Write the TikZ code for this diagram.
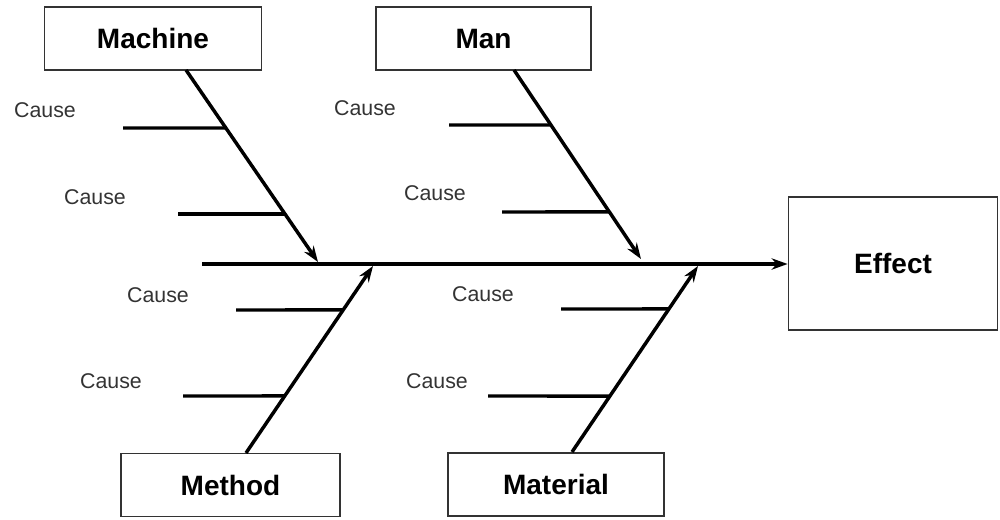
\documentclass[tikz,border=0pt]{standalone}
\usepackage{fontspec}
\setmainfont{Liberation Sans}
\usetikzlibrary{calc,arrows.meta}

\tikzset{
  catbox/.style={draw=black!80, line width=1.1pt, fill=white, inner sep=0pt,
    minimum height=47pt, font=\fontsize{21pt}{24pt}\selectfont\bfseries},
  causelbl/.style={text=black!80, inner sep=0pt, font=\fontsize{16pt}{18pt}\selectfont},
  bone/.style={line width=2.6pt},
}

\begin{document}
\begin{tikzpicture}[x=0.75pt, y=-0.75pt, line cap=butt, >={Stealth[length=12pt,width=8.5pt]}]

  \useasboundingbox (0,0) rectangle (1000,519);

  % ── Category boxes ──────────────────────────────────────────────────────────
  \node[catbox, minimum width=163pt] (mach) at (153,38.5)   {Machine};
  \node[catbox, minimum width=161pt] (man)  at (483.5,38.5) {Man};
  \node[catbox, minimum width=164pt] (meth) at (230.5,485)  {Method};
  \node[catbox, minimum width=162pt] (matl) at (556,484.5)  {Material};
  \node[catbox, minimum width=157pt, minimum height=100pt] (eff) at (893,263.5) {Effect};

  % ── Spine ───────────────────────────────────────────────────────────────────
  \coordinate (tail) at (202,264);
  \draw[bone, ->] (tail) -- (eff.west |- tail);

  % ── Bones ───────────────────────────────────────────────────────────────────
  \coordinate (machS) at (186,70);   \coordinate (machE) at (318,262);
  \coordinate (manS)  at (514,70);   \coordinate (manE)  at (641,259);
  \coordinate (methS) at (246,453);  \coordinate (methE) at (373,266);
  \coordinate (matlS) at (572,452);  \coordinate (matlE) at (698,266);

  \draw[bone, ->] (machS) -- (machE);
  \draw[bone, ->] (manS)  -- (manE);
  \draw[bone, ->] (methS) -- (methE);
  \draw[bone, ->] (matlS) -- (matlE);

  % ── Cause branches ──────────────────────────────────────────────────────────
  \coordinate (c1) at (123,128);  \coordinate (c2) at (178,214);
  \coordinate (c3) at (449,125);  \coordinate (c4) at (502,212);
  \coordinate (c5) at (236,310);  \coordinate (c6) at (183,396);
  \coordinate (c7) at (561,309);  \coordinate (c8) at (488,396);

  \draw[bone] (c1) -- ($(machS)!0.302!(machE)$);
  \draw[bone] (c2) -- ($(machS)!0.750!(machE)$);
  \draw[bone] (c3) -- ($(manS)!0.291!(manE)$);
  \draw[bone] (c4) -- ($(manS)!0.751!(manE)$);
  \draw[bone] (c5) -- ($(methS)!0.765!(methE)$);
  \draw[bone] (c6) -- ($(methS)!0.305!(methE)$);
  \draw[bone] (c7) -- ($(matlS)!0.769!(matlE)$);
  \draw[bone] (c8) -- ($(matlS)!0.301!(matlE)$);

  % ── Cause labels ────────────────────────────────────────────────────────────
  \node[causelbl] (l1) at (45,110)  {Cause};
  \node[causelbl] (l2) at (95,197)  {Cause};
  \node[causelbl] (l3) at (365,108) {Cause};
  \node[causelbl] (l4) at (435,193) {Cause};
  \node[causelbl] (l5) at (158,295) {Cause};
  \node[causelbl] (l6) at (111,381) {Cause};
  \node[causelbl] (l7) at (483,294) {Cause};
  \node[causelbl] (l8) at (437,381) {Cause};

\end{tikzpicture}
\end{document}
